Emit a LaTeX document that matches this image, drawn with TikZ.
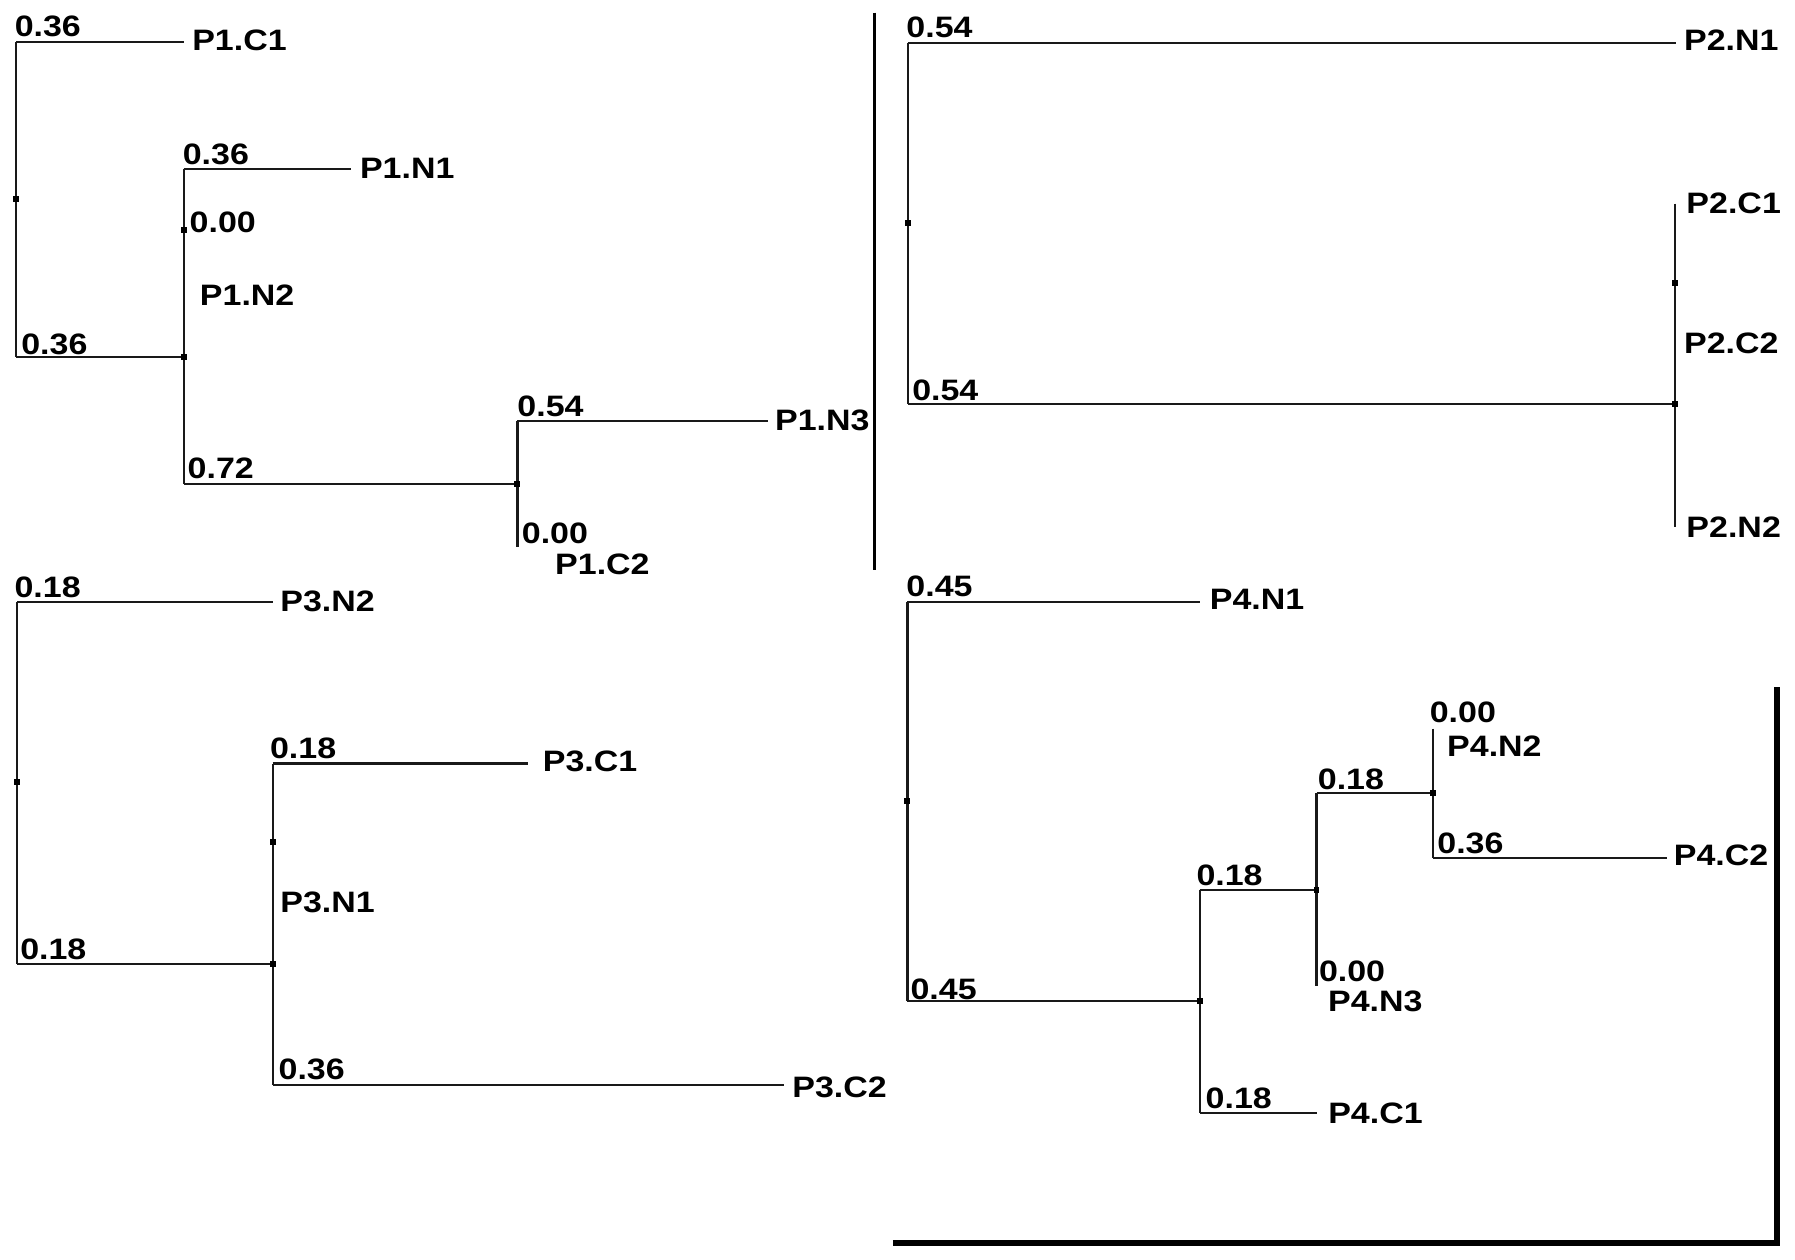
\documentclass[tikz,border=0pt]{standalone}
\usepackage{fontspec}
\newfontfamily\labfont{Liberation Sans}[FakeStretch=1.15]
\begin{document}
\begin{tikzpicture}[x=1pt,y=-1pt,
  br/.style={line width=1.9pt,black!90},
  sep/.style={line width=2.6pt,black},
  frame/.style={line width=5.5pt,black,line join=miter},
  lab/.style={anchor=base west,inner sep=0pt,font=\labfont\bfseries\fontsize{25.8}{30}\selectfont},
  dot/.style={fill=black}]
\useasboundingbox[fill=white] (0,0) rectangle (1568,1100);
% ---------------- Panel 1 ----------------
\coordinate (a0t) at (14,36.8);
\coordinate (a0b) at (14,312);
\coordinate (a0m) at (14,173.8);
\coordinate (a1t) at (160.5,36.8);
\coordinate (a1) at (160.5,312);
\coordinate (a1top) at (160.5,147.3);
\coordinate (a1z) at (160.5,201);
\coordinate (a1bot) at (160.5,422.8);
\coordinate (n1end) at (307,147.3);
\coordinate (a2) at (452,422.8);
\coordinate (a2top) at (452,367.8);
\coordinate (a2bot) at (452,477.5);
\coordinate (n3end) at (671,367.8);
\draw[br] (a0t) -- (a0b);
\draw[br] (a0t) -- (a1t);
\draw[br] (a0b) -- (a1);
\draw[br] (a1top) -- (a1bot);
\draw[br] (a1top) -- (n1end);
\draw[br] (a1bot) -- (a2);
\draw[br] (a2top) -- (a2bot);
\draw[br] (a2top) -- (n3end);
\foreach \c in {a0m,a1,a1z,a2} \fill[dot] (\c) ++(-2.6,-2.6) rectangle ++(5.2,5.2);
\node[lab] (l1a) at (12.7,32.1) {0.36};
\node[lab] (p1c1) at (167.8,43.7) {P1.C1};
\node[lab] (l1b) at (159.5,144) {0.36};
\node[lab] (p1n1) at (314.3,156) {P1.N1};
\node[lab] (l1c) at (165.5,203.4) {0.00};
\node[lab] (p1n2) at (174.5,266.8) {P1.N2};
\node[lab] (l1d) at (18.4,310) {0.36};
\node[lab] (l1e) at (163.8,418) {0.72};
\node[lab] (l1f) at (451.8,363.4) {0.54};
\node[lab] (p1n3) at (676.9,375.7) {P1.N3};
\node[lab] (l1g) at (455.7,474.6) {0.00};
\node[lab] (p1c2) at (484.8,502.2) {P1.C2};
% separator
\coordinate (s1) at (764.3,11);
\coordinate (s2) at (764.3,498);
\draw[sep] (s1) -- (s2);
% ---------------- Panel 2 ----------------
\coordinate (b0t) at (793,37.6);
\coordinate (b0b) at (793,353.2);
\coordinate (b0m) at (793,195);
\coordinate (b1t) at (1464,37.6);
\coordinate (b1) at (1463.4,353.2);
\coordinate (b1top) at (1463.4,177.8);
\coordinate (b1bot) at (1463.4,460.2);
\coordinate (b1z) at (1463.4,247.4);
\draw[br] (b0t) -- (b0b);
\draw[br] (b0t) -- (b1t);
\draw[br] (b0b) -- (b1);
\draw[br] (b1top) -- (b1bot);
\foreach \c in {b0m,b1,b1z} \fill[dot] (\c) ++(-2.6,-2.6) rectangle ++(5.2,5.2);
\node[lab] (l2a) at (791.6,32.8) {0.54};
\node[lab] (p2n1) at (1471,44.3) {P2.N1};
\node[lab] (l2b) at (796.7,349.5) {0.54};
\node[lab] (p2c1) at (1473,186.6) {P2.C1};
\node[lab] (p2c2) at (1471,309) {P2.C2};
\node[lab] (p2n2) at (1473,469.6) {P2.N2};
% ---------------- Panel 3 ----------------
\coordinate (c0t) at (15,526);
\coordinate (c0b) at (15,841.8);
\coordinate (c0m) at (15,683.3);
\coordinate (c1t) at (238.2,526);
\coordinate (c1) at (238.2,841.8);
\coordinate (c1top) at (238.2,667);
\coordinate (c1bot) at (238.2,947.9);
\coordinate (c1z) at (238.2,735.7);
\coordinate (c1end) at (461.4,667);
\coordinate (c2end) at (684.5,947.9);
\draw[br] (c0t) -- (c0b);
\draw[br] (c0t) -- (c1t);
\draw[br] (c0b) -- (c1);
\draw[br] (c1top) -- (c1bot);
\draw[br] (c1top) -- (c1end);
\draw[br] (c1bot) -- (c2end);
\foreach \c in {c0m,c1,c1z} \fill[dot] (\c) ++(-2.6,-2.6) rectangle ++(5.2,5.2);
\node[lab] (l3a) at (12.5,522) {0.18};
\node[lab] (p3n2) at (244.7,534.4) {P3.N2};
\node[lab] (l3b) at (17.5,838) {0.18};
\node[lab] (l3c) at (235.7,662.4) {0.18};
\node[lab] (p3c1) at (474,674) {P3.C1};
\node[lab] (p3n1) at (244.7,797.5) {P3.N1};
\node[lab] (l3d) at (243.2,943.2) {0.36};
\node[lab] (p3c2) at (692,958.8) {P3.C2};
% ---------------- Panel 4 ----------------
\coordinate (d0t) at (792.7,526.2);
\coordinate (d0b) at (792.7,874.7);
\coordinate (d0m) at (792.7,699.5);
\coordinate (d1t) at (1048,526.2);
\coordinate (d1) at (1048,874.7);
\coordinate (d1top) at (1048,777.4);
\coordinate (d1bot) at (1048,972.1);
\coordinate (d2) at (1150,777.4);
\coordinate (c1e) at (1150,972.1);
\coordinate (d2top) at (1150,692.5);
\coordinate (d2bot) at (1150,861.1);
\coordinate (d3) at (1251.9,692.5);
\coordinate (d3top) at (1251.9,636.4);
\coordinate (d3bot) at (1251.9,749.3);
\coordinate (d3end) at (1455.8,749.3);
\draw[br] (d0t) -- (d0b);
\draw[br] (d0t) -- (d1t);
\draw[br] (d0b) -- (d1);
\draw[br] (d1top) -- (d1bot);
\draw[br] (d1top) -- (d2);
\draw[br] (d1bot) -- (c1e);
\draw[br] (d2top) -- (d2bot);
\draw[br] (d2top) -- (d3);
\draw[br] (d3top) -- (d3bot);
\draw[br] (d3bot) -- (d3end);
\foreach \c in {d0m,d1,d2,d3} \fill[dot] (\c) ++(-2.6,-2.6) rectangle ++(5.2,5.2);
\node[lab] (l4a) at (791.6,521.1) {0.45};
\node[lab] (p4n1) at (1056.7,532) {P4.N1};
\node[lab] (l4b) at (795.2,872.8) {0.45};
\node[lab] (l4c) at (1045,773.5) {0.18};
\node[lab] (l4d) at (1053,968.2) {0.18};
\node[lab] (p4c1) at (1160.1,981.8) {P4.C1};
\node[lab] (l4e) at (1151,689.7) {0.18};
\node[lab] (l4f) at (1152,857.2) {0.00};
\node[lab] (p4n3) at (1160,883.3) {P4.N3};
\node[lab] (l4g) at (1248.8,631.3) {0.00};
\node[lab] (p4n2) at (1264,660.5) {P4.N2};
\node[lab] (l4h) at (1255.4,745.4) {0.36};
\node[lab] (p4c2) at (1462,756) {P4.C2};
% bold frame
\coordinate (f1) at (779.9,1086);
\coordinate (f2) at (1552.5,1086);
\coordinate (f3) at (1552.5,600.5);
\draw[frame] (f1) -- (f2) -- (f3);
\end{tikzpicture}
\end{document}
